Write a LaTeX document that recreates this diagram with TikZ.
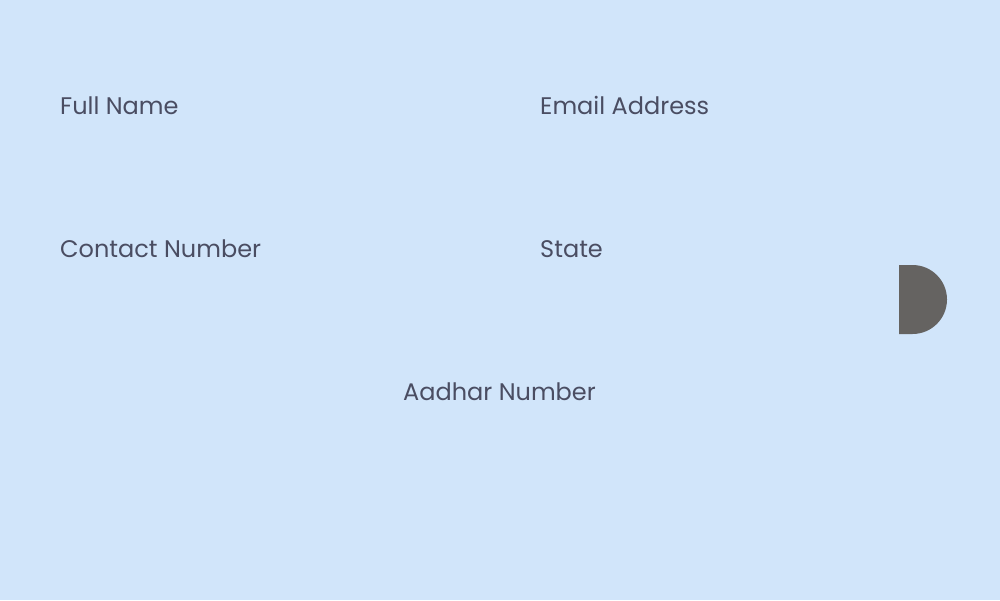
\documentclass[tikz,border=0pt]{standalone}
\usepackage{fontspec}
\setmainfont{Poppins}
\definecolor{bg}{HTML}{D1E5FA}
\definecolor{txt}{HTML}{4A4D62}
\definecolor{knob}{HTML}{656361}
\begin{document}
\begin{tikzpicture}[x=1pt,y=-1pt,
  lbl/.style={anchor=base west,inner sep=0pt,text=txt,font=\fontsize{24}{28}\selectfont}]
\fill[bg] (0,0) rectangle (1000,600);
\useasboundingbox (0,0) rectangle (1000,600);
\node[lbl] (fn) at (60,114) {Full Name};
\node[lbl] (em) at (540,114) {Email Address};
\node[lbl] (cn) at (60,257) {Contact Number};
\node[lbl] (st) at (540,257) {State};
\node[lbl] (aa) at (403,400) {Aadhar Number};
\fill[knob] (899,265) -- (912.5,265) arc[start angle=-90,end angle=90,radius=34.5] -- (899,334) -- cycle;
\end{tikzpicture}
\end{document}
